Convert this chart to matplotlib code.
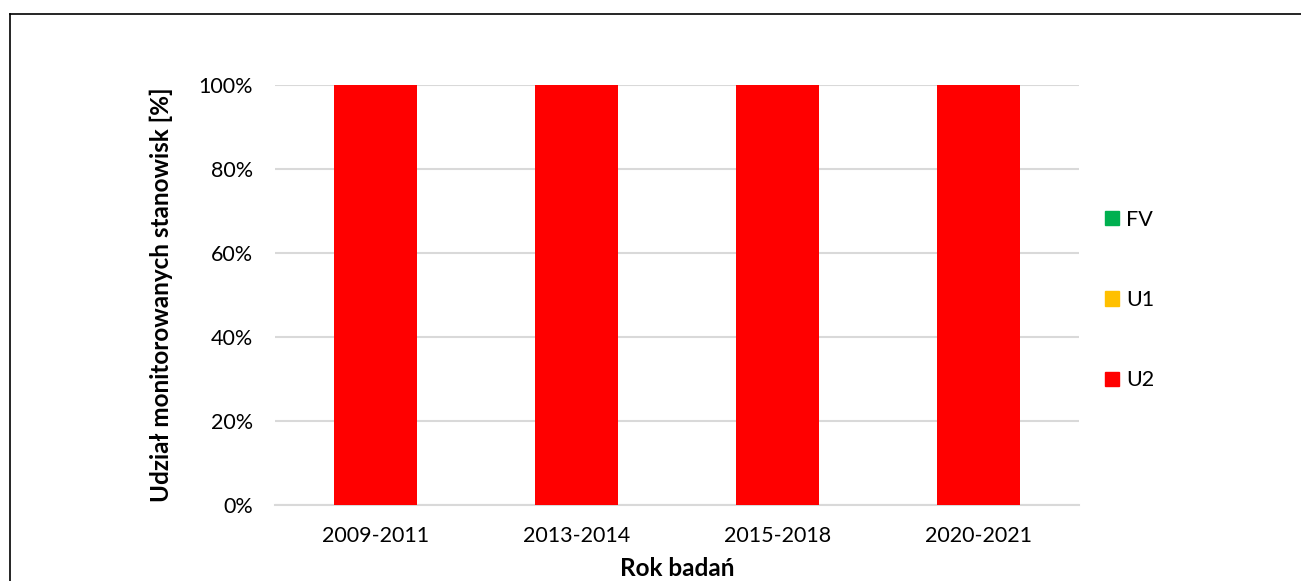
import matplotlib.pyplot as plt
from matplotlib.lines import Line2D
from matplotlib.patches import Patch

plt.rcParams['font.family'] = ['Lato', 'DejaVu Sans']

years = ["2009-2011", "2013-2014", "2015-2018", "2020-2021"]
fv = [0, 0, 0, 0]
u1 = [0, 0, 0, 0]
u2 = [100, 100, 100, 100]

colors = {"FV": "#00b050", "U1": "#ffc000", "U2": "#ff0000"}

fig = plt.figure(figsize=(13.01, 5.81), dpi=100)
ax = fig.add_axes([275 / 1301, 1 - 505 / 581, 804 / 1301, 420 / 581])

x = range(len(years))
w = 0.41
ax.bar(x, fv, w, color=colors["FV"], label="FV", zorder=3)
ax.bar(x, u1, w, bottom=fv, color=colors["U1"], label="U1", zorder=3)
bottom2 = [a + b for a, b in zip(fv, u1)]
ax.bar(x, u2, w, bottom=bottom2, color=colors["U2"], label="U2", zorder=3)

ax.set_xlim(-0.5, len(years) - 0.5)
ax.set_ylim(0, 100)
ax.set_yticks(range(0, 101, 20))
ax.set_yticklabels([f"{v}%" for v in range(0, 101, 20)])
ax.set_xticks(list(x))
ax.set_xticklabels(years)
ax.tick_params(length=0, labelsize=15.5, colors="#000000")
ax.tick_params(axis="y", pad=16)
ax.tick_params(axis="x", pad=15)
ax.yaxis.grid(True, color="#d9d9d9", linewidth=1.5, zorder=0)
for s in ["top", "right", "left"]:
    ax.spines[s].set_visible(False)
ax.spines["bottom"].set_color("#d9d9d9")
ax.spines["bottom"].set_linewidth(1.5)

ax.set_xlabel("Rok badań", fontsize=17.5, fontweight="bold", labelpad=8)
ax.set_ylabel("Udział monitorowanych stanowisk [%]", fontsize=17.5, fontweight="bold", labelpad=18)

handles = [Patch(color=colors[k]) for k in ["FV", "U1", "U2"]]
fig.legend(handles, ["FV", "U1", "U2"], loc="center left",
           bbox_to_anchor=(1086 / 1301, 1 - 300 / 581), frameon=False,
           fontsize=15.5, handlelength=0.65, handleheight=0.65,
           handletextpad=0.3, labelspacing=2.8)

# outer frame (left and top edges visible)
fig.add_artist(Line2D([9.5 / 1301, 9.5 / 1301], [0, 1 - 13.5 / 581], color="black", linewidth=1.2, transform=fig.transFigure))
fig.add_artist(Line2D([9.5 / 1301, 1], [1 - 13.5 / 581, 1 - 13.5 / 581], color="black", linewidth=1.2, transform=fig.transFigure))

fig.savefig("out.png", dpi=100)
